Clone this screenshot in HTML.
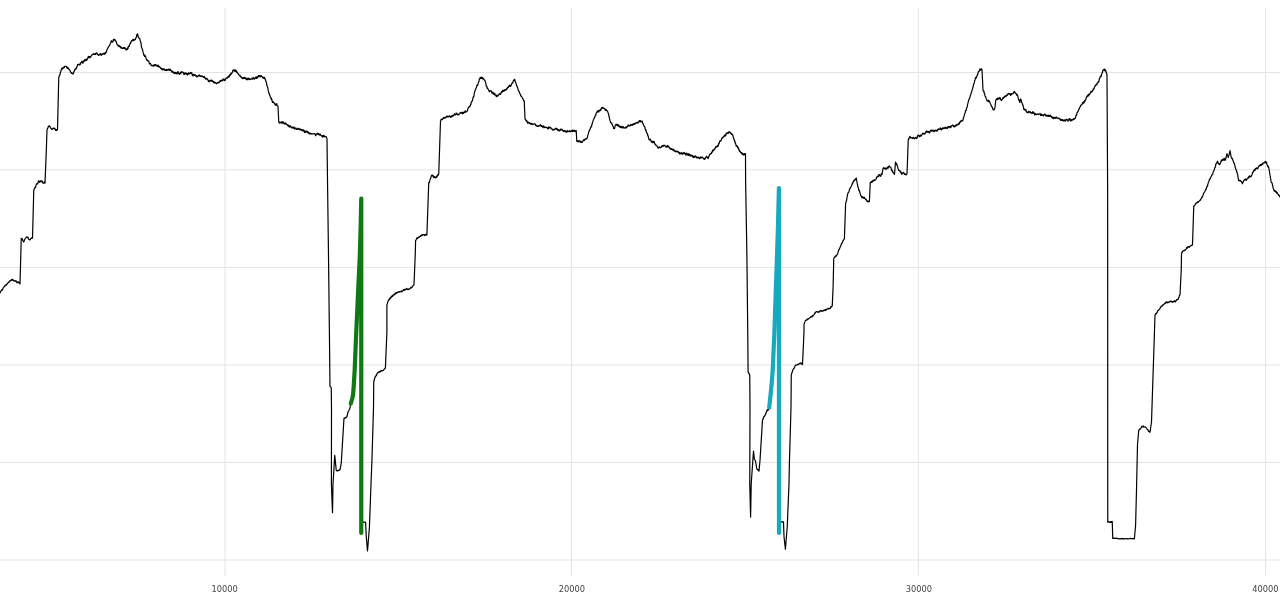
<!DOCTYPE html>
<html><head><meta charset="utf-8"><title>chart</title>
<style>html,body{margin:0;padding:0;background:#fff;overflow:hidden}svg{display:block}</style>
</head><body>
<svg width="1280" height="608" viewBox="0 0 1280 608">
<rect width="1280" height="608" fill="#fff"/>
<g stroke="#e3e3e3" stroke-width="1" fill="none">
<path d="M225.0,8V576.5"/>
<path d="M571.5,8V576.5"/>
<path d="M918.4,8V576.5"/>
<path d="M1265.5,8V576.5"/>
<path d="M0,72.5H1280"/>
<path d="M0,169.8H1280"/>
<path d="M0,267.4H1280"/>
<path d="M0,365.0H1280"/>
<path d="M0,462.5H1280"/>
<path d="M0,560.0H1280"/>
</g>
<path d="M0.00,293.25 L0.31,292.32 L0.62,291.88 L0.94,290.78 L1.25,290.71 L1.56,290.02 L1.88,289.78 L2.19,289.92 L2.50,290.14 L2.81,288.59 L3.12,288.00 L3.44,287.77 L3.75,287.44 L4.06,286.72 L4.38,286.24 L4.69,286.44 L5.00,285.75 L5.30,285.07 L5.60,285.13 L5.90,285.22 L6.20,284.93 L6.50,285.16 L6.80,284.14 L7.10,283.70 L7.40,283.43 L7.70,283.55 L8.00,282.81 L8.30,282.38 L8.60,282.40 L8.90,281.94 L9.20,281.46 L9.50,281.75 L9.80,281.38 L10.10,280.58 L10.40,280.71 L10.70,280.40 L11.00,280.55 L11.30,280.20 L11.60,279.48 L11.90,280.12 L12.20,279.33 L12.50,279.50 L12.80,279.71 L13.10,280.40 L13.40,280.02 L13.70,280.77 L14.00,280.94 L14.30,280.90 L14.60,280.73 L14.90,281.17 L15.20,281.27 L15.50,280.68 L15.80,281.20 L16.10,280.78 L16.40,281.83 L16.70,282.06 L17.00,282.77 L17.30,282.59 L17.60,281.98 L17.90,282.13 L18.20,282.50 L18.50,281.76 L18.80,282.67 L19.10,282.71 L19.40,283.04 L19.70,283.59 L20.00,284.00 L21.25,238.25 L21.56,239.04 L21.88,238.60 L22.19,239.24 L22.50,239.56 L22.81,240.48 L23.12,240.92 L23.44,241.51 L23.75,242.00 L24.06,241.49 L24.38,240.08 L24.69,239.54 L25.00,239.04 L25.31,238.39 L25.62,238.04 L25.94,237.57 L26.25,237.00 L26.56,237.27 L26.88,237.11 L27.19,237.04 L27.50,237.31 L27.81,237.80 L28.12,237.48 L28.44,238.92 L28.75,239.20 L29.06,239.54 L29.38,239.68 L29.69,239.58 L30.00,240.00 L30.31,239.36 L30.62,238.80 L30.94,238.40 L31.25,238.27 L31.56,237.93 L31.88,237.87 L32.19,238.25 L32.50,238.25 L33.75,190.75 L34.06,189.49 L34.38,188.60 L34.69,188.16 L35.00,187.28 L35.31,187.69 L35.62,187.11 L35.94,185.38 L36.25,184.58 L36.56,183.79 L36.88,183.70 L37.19,184.00 L37.50,183.75 L37.81,183.93 L38.12,182.01 L38.44,181.18 L38.75,180.75 L39.06,181.76 L39.38,182.29 L39.69,181.93 L40.00,181.11 L40.31,181.22 L40.62,180.82 L40.94,181.79 L41.25,181.32 L41.56,181.68 L41.88,180.86 L42.19,181.00 L42.50,182.31 L42.81,182.92 L43.12,183.01 L43.44,183.25 L43.75,183.15 L44.06,182.89 L44.38,181.90 L44.69,182.68 L45.00,183.25 L46.25,152.00 L47.00,130.00 L47.32,128.87 L47.64,128.32 L47.96,127.94 L48.29,126.35 L48.61,126.58 L48.93,126.20 L49.25,125.75 L49.58,126.31 L49.92,126.39 L50.25,127.14 L50.58,127.99 L50.92,128.26 L51.25,128.75 L51.56,128.83 L51.88,129.42 L52.19,129.21 L52.50,129.17 L52.81,128.70 L53.12,128.18 L53.44,128.68 L53.75,128.00 L54.06,128.46 L54.38,128.79 L54.69,128.25 L55.00,128.59 L55.31,128.86 L55.62,130.37 L55.94,130.43 L56.25,129.53 L56.56,130.47 L56.88,130.51 L57.19,129.56 L57.50,129.50 L58.75,77.50 L59.06,76.85 L59.38,75.76 L59.69,74.73 L60.00,74.60 L60.31,72.57 L60.62,72.12 L60.94,70.90 L61.25,70.00 L61.55,69.18 L61.86,68.68 L62.16,67.94 L62.46,69.02 L62.77,67.82 L63.07,67.75 L63.38,67.72 L63.68,68.02 L63.98,66.95 L64.29,67.52 L64.59,66.51 L64.89,66.27 L65.20,66.24 L65.50,66.25 L65.80,66.30 L66.11,66.28 L66.41,66.44 L66.72,67.31 L67.02,67.78 L67.33,68.36 L67.63,67.40 L67.93,68.36 L68.24,68.02 L68.54,68.30 L68.85,69.37 L69.15,69.15 L69.46,69.48 L69.76,70.15 L70.07,71.15 L70.37,71.09 L70.67,72.12 L70.98,72.68 L71.28,72.99 L71.59,73.29 L71.89,72.88 L72.20,73.22 L72.50,73.75 L72.81,73.37 L73.12,73.91 L73.44,73.47 L73.75,72.01 L74.06,71.29 L74.38,71.14 L74.69,69.82 L75.00,69.41 L75.31,68.69 L75.62,69.26 L75.94,69.01 L76.25,68.77 L76.56,67.00 L76.88,67.44 L77.19,66.22 L77.50,65.00 L77.80,64.28 L78.11,64.40 L78.41,64.73 L78.71,64.62 L79.02,64.47 L79.32,64.53 L79.62,65.07 L79.92,63.73 L80.23,64.49 L80.53,63.91 L80.83,62.62 L81.14,62.58 L81.44,62.51 L81.74,61.75 L82.05,61.07 L82.35,62.81 L82.65,62.66 L82.95,63.16 L83.26,61.78 L83.56,61.58 L83.86,60.72 L84.17,61.51 L84.47,60.17 L84.77,59.60 L85.08,59.95 L85.38,60.64 L85.68,60.34 L85.98,59.24 L86.29,59.06 L86.59,60.44 L86.89,59.91 L87.20,59.58 L87.50,58.75 L87.80,57.69 L88.10,57.94 L88.41,56.39 L88.71,57.52 L89.01,56.67 L89.31,56.59 L89.61,57.07 L89.91,57.82 L90.22,56.81 L90.52,56.55 L90.82,56.89 L91.12,56.07 L91.42,55.53 L91.72,55.28 L92.03,54.74 L92.33,54.63 L92.63,54.44 L92.93,54.06 L93.23,54.46 L93.53,53.69 L93.84,54.28 L94.14,53.96 L94.44,54.48 L94.74,54.15 L95.04,54.30 L95.34,53.55 L95.65,54.42 L95.95,53.48 L96.25,53.00 L96.56,53.23 L96.88,52.98 L97.19,53.51 L97.50,54.51 L97.81,54.28 L98.12,55.00 L98.44,55.32 L98.75,55.00 L99.05,54.95 L99.35,54.71 L99.65,54.21 L99.95,54.94 L100.25,53.71 L100.55,53.69 L100.85,53.69 L101.15,55.11 L101.45,55.29 L101.75,55.09 L102.05,54.27 L102.35,54.04 L102.65,53.96 L102.95,54.09 L103.25,53.41 L103.55,53.77 L103.85,53.33 L104.15,54.38 L104.45,54.26 L104.75,53.41 L105.05,52.68 L105.35,53.70 L105.65,52.37 L105.95,52.42 L106.25,52.50 L106.56,50.85 L106.88,49.95 L107.19,49.18 L107.50,49.23 L107.81,47.98 L108.12,47.30 L108.44,47.13 L108.75,46.36 L109.06,46.27 L109.38,45.49 L109.69,45.18 L110.00,44.34 L110.31,43.55 L110.62,42.95 L110.94,41.58 L111.25,41.25 L111.56,40.69 L111.88,41.90 L112.19,42.25 L112.50,42.05 L112.81,41.58 L113.12,41.07 L113.44,39.28 L113.75,39.28 L114.06,39.45 L114.38,40.21 L114.69,40.02 L115.00,39.50 L115.31,40.69 L115.62,40.91 L115.94,41.11 L116.25,41.83 L116.56,43.09 L116.88,43.53 L117.19,45.00 L117.50,45.00 L117.80,45.26 L118.10,45.61 L118.41,46.03 L118.71,45.23 L119.01,46.57 L119.31,45.92 L119.61,45.79 L119.91,46.28 L120.22,47.25 L120.52,46.53 L120.82,47.64 L121.12,48.24 L121.42,47.62 L121.72,47.63 L122.03,47.94 L122.33,48.36 L122.63,48.58 L122.93,48.40 L123.23,48.52 L123.53,47.54 L123.84,47.59 L124.14,47.71 L124.44,48.47 L124.74,47.65 L125.04,48.56 L125.34,48.19 L125.65,48.83 L125.95,49.79 L126.25,50.00 L126.56,49.69 L126.88,48.78 L127.19,49.61 L127.50,47.94 L127.81,48.77 L128.12,48.19 L128.44,46.13 L128.75,46.37 L129.06,46.47 L129.38,46.22 L129.69,44.65 L130.00,43.66 L130.31,42.87 L130.62,43.44 L130.94,41.51 L131.25,41.74 L131.56,40.61 L131.88,40.86 L132.19,40.87 L132.50,40.00 L132.80,39.85 L133.10,39.22 L133.40,40.63 L133.70,40.21 L134.00,39.71 L134.30,39.48 L134.60,40.11 L134.90,39.84 L135.20,39.47 L135.50,39.50 L135.83,37.68 L136.17,37.47 L136.50,36.83 L136.83,34.62 L137.17,34.88 L137.50,33.75 L137.80,34.71 L138.10,36.79 L138.40,36.93 L138.70,37.39 L139.00,38.34 L139.30,38.54 L139.60,38.61 L139.90,39.16 L140.20,40.68 L140.50,41.25 L140.82,42.31 L141.15,44.21 L141.47,47.04 L141.80,48.12 L142.12,48.88 L142.45,49.45 L142.78,50.98 L143.10,52.41 L143.43,53.36 L143.75,55.00 L144.06,55.36 L144.38,54.99 L144.69,56.60 L145.00,55.36 L145.31,56.06 L145.62,56.61 L145.94,57.29 L146.25,58.81 L146.56,59.98 L146.88,59.52 L147.19,60.50 L147.50,60.20 L147.81,60.94 L148.12,60.96 L148.44,60.88 L148.75,61.45 L149.06,62.11 L149.38,63.88 L149.69,63.55 L150.00,63.75 L150.30,63.48 L150.61,63.59 L150.91,64.59 L151.21,65.59 L151.52,65.73 L151.82,65.32 L152.12,65.48 L152.42,65.83 L152.73,65.74 L153.03,65.64 L153.33,65.01 L153.64,65.21 L153.94,66.22 L154.24,64.62 L154.55,65.20 L154.85,65.38 L155.15,65.73 L155.45,64.58 L155.76,64.66 L156.06,64.76 L156.36,65.16 L156.67,65.38 L156.97,66.38 L157.27,66.31 L157.58,66.41 L157.88,65.03 L158.18,65.11 L158.48,66.32 L158.79,66.83 L159.09,66.35 L159.39,66.79 L159.70,66.70 L160.00,67.50 L160.30,67.72 L160.60,68.40 L160.90,68.24 L161.20,68.75 L161.50,68.24 L161.80,69.56 L162.10,68.67 L162.40,69.89 L162.70,69.48 L163.00,68.95 L163.30,68.76 L163.60,69.09 L163.90,69.86 L164.20,70.08 L164.50,69.19 L164.80,69.28 L165.10,70.21 L165.40,70.46 L165.70,70.29 L166.00,70.16 L166.30,70.56 L166.60,69.31 L166.90,69.55 L167.20,69.58 L167.50,70.18 L167.80,69.68 L168.10,70.11 L168.40,69.45 L168.70,69.08 L169.00,69.13 L169.30,70.47 L169.60,70.15 L169.90,69.60 L170.20,69.24 L170.50,70.17 L170.80,70.74 L171.10,70.59 L171.40,70.59 L171.70,71.56 L172.00,72.28 L172.30,71.27 L172.60,71.11 L172.90,71.81 L173.20,72.13 L173.50,72.75 L173.80,72.15 L174.10,73.39 L174.40,73.52 L174.70,72.87 L175.00,72.50 L175.30,72.28 L175.60,72.86 L175.90,73.73 L176.20,72.76 L176.50,73.57 L176.80,72.97 L177.10,73.98 L177.40,72.27 L177.70,71.83 L178.00,71.55 L178.30,72.39 L178.60,73.51 L178.90,73.76 L179.20,73.77 L179.50,74.49 L179.80,74.12 L180.10,72.84 L180.40,72.33 L180.70,73.35 L181.00,72.77 L181.30,71.58 L181.60,72.67 L181.90,72.21 L182.20,72.22 L182.50,72.17 L182.80,72.18 L183.10,72.18 L183.40,72.93 L183.70,73.34 L184.00,74.65 L184.30,73.04 L184.60,74.27 L184.90,72.78 L185.20,72.84 L185.50,73.43 L185.80,73.77 L186.10,73.45 L186.40,73.14 L186.70,74.20 L187.00,74.37 L187.30,75.10 L187.60,73.67 L187.90,73.77 L188.20,74.48 L188.50,72.82 L188.80,73.34 L189.10,73.90 L189.40,73.70 L189.70,73.03 L190.00,73.75 L190.30,73.37 L190.61,72.41 L190.91,73.27 L191.21,72.68 L191.52,72.82 L191.82,72.87 L192.12,74.66 L192.42,75.45 L192.73,75.48 L193.03,76.08 L193.33,74.25 L193.64,74.35 L193.94,74.50 L194.24,75.05 L194.55,75.29 L194.85,74.65 L195.15,74.74 L195.45,75.37 L195.76,75.78 L196.06,76.67 L196.36,75.56 L196.67,76.77 L196.97,76.81 L197.27,76.95 L197.58,76.66 L197.88,76.17 L198.18,75.48 L198.48,75.26 L198.79,75.30 L199.09,76.06 L199.39,74.90 L199.70,75.66 L200.00,76.25 L200.30,76.35 L200.61,75.89 L200.91,75.79 L201.21,76.34 L201.52,76.62 L201.82,76.21 L202.12,75.88 L202.42,76.23 L202.73,76.61 L203.03,76.78 L203.33,77.02 L203.64,77.30 L203.94,77.10 L204.24,76.29 L204.55,77.87 L204.85,77.33 L205.15,78.19 L205.45,78.25 L205.76,79.21 L206.06,78.31 L206.36,78.40 L206.67,78.41 L206.97,78.27 L207.27,79.72 L207.58,79.66 L207.88,79.69 L208.18,80.27 L208.48,81.75 L208.79,81.11 L209.09,80.73 L209.39,81.79 L209.70,80.99 L210.00,80.50 L210.30,80.80 L210.60,80.38 L210.90,80.17 L211.20,81.18 L211.50,80.19 L211.80,81.06 L212.10,80.39 L212.40,81.50 L212.70,81.07 L213.00,81.03 L213.30,82.18 L213.60,82.73 L213.90,81.57 L214.20,82.66 L214.50,82.97 L214.80,82.40 L215.10,82.76 L215.40,82.49 L215.70,82.70 L216.00,82.90 L216.30,83.62 L216.60,83.85 L216.90,83.22 L217.20,82.96 L217.50,83.00 L217.80,82.64 L218.11,82.73 L218.41,82.90 L218.71,82.00 L219.02,82.03 L219.32,82.53 L219.62,81.64 L219.92,81.02 L220.23,80.66 L220.53,81.54 L220.83,80.36 L221.14,80.71 L221.44,80.26 L221.74,80.28 L222.05,80.85 L222.35,80.87 L222.65,79.58 L222.95,79.09 L223.26,79.84 L223.56,79.10 L223.86,78.91 L224.17,80.58 L224.47,79.92 L224.77,80.56 L225.08,79.58 L225.38,80.11 L225.68,79.12 L225.98,78.34 L226.29,77.72 L226.59,78.23 L226.89,77.99 L227.20,78.10 L227.50,78.00 L227.81,77.65 L228.11,76.20 L228.42,76.78 L228.73,77.24 L229.03,77.19 L229.34,75.38 L229.65,74.76 L229.95,75.64 L230.26,75.24 L230.57,74.11 L230.88,73.09 L231.18,74.28 L231.49,73.08 L231.80,73.45 L232.10,72.41 L232.41,72.20 L232.72,70.51 L233.02,71.12 L233.33,69.87 L233.64,69.89 L233.94,70.36 L234.25,70.00 L234.56,70.75 L234.86,71.42 L235.17,69.95 L235.47,70.81 L235.78,71.31 L236.08,70.43 L236.39,72.13 L236.69,71.25 L237.00,72.41 L237.31,72.75 L237.61,73.30 L237.92,73.17 L238.22,73.79 L238.53,74.47 L238.83,74.59 L239.14,75.37 L239.44,75.40 L239.75,75.77 L240.06,75.32 L240.36,76.58 L240.67,76.62 L240.97,76.44 L241.28,77.55 L241.58,77.77 L241.89,77.40 L242.19,77.76 L242.50,78.75 L242.80,78.27 L243.10,78.63 L243.40,77.54 L243.70,78.50 L244.00,78.43 L244.30,78.02 L244.60,77.28 L244.90,78.08 L245.20,77.91 L245.50,78.92 L245.80,77.71 L246.10,79.12 L246.40,79.53 L246.70,79.25 L247.00,79.57 L247.30,78.38 L247.60,79.59 L247.90,78.62 L248.20,79.28 L248.50,79.08 L248.80,78.00 L249.10,79.26 L249.40,79.70 L249.70,78.95 L250.00,79.50 L250.30,79.12 L250.61,79.37 L250.91,79.16 L251.22,78.79 L251.52,78.95 L251.82,78.50 L252.13,79.41 L252.43,78.56 L252.74,78.52 L253.04,77.39 L253.34,78.72 L253.65,77.86 L253.95,78.85 L254.26,79.22 L254.56,78.33 L254.86,78.78 L255.17,77.81 L255.47,77.43 L255.78,77.82 L256.08,76.68 L256.39,78.37 L256.69,77.93 L256.99,77.71 L257.30,78.03 L257.60,76.67 L257.91,77.45 L258.21,76.30 L258.51,75.62 L258.82,76.39 L259.12,75.92 L259.43,75.56 L259.73,76.61 L260.03,75.53 L260.34,76.96 L260.64,76.11 L260.95,76.37 L261.25,75.75 L261.56,76.07 L261.88,76.34 L262.19,77.14 L262.50,76.84 L262.81,77.27 L263.12,78.22 L263.44,77.22 L263.75,77.68 L264.06,78.44 L264.38,77.41 L264.69,77.94 L265.00,78.75 L265.31,79.72 L265.62,79.89 L265.94,81.60 L266.25,82.35 L266.56,83.06 L266.88,85.72 L267.19,85.84 L267.50,86.98 L267.81,87.95 L268.12,89.94 L268.44,91.38 L268.75,92.50 L269.06,93.62 L269.38,94.13 L269.69,95.24 L270.00,95.50 L270.31,97.09 L270.62,97.50 L270.94,97.42 L271.25,99.29 L271.56,98.51 L271.88,100.02 L272.19,101.05 L272.50,102.50 L272.81,102.03 L273.11,101.59 L273.42,102.39 L273.72,102.33 L274.03,102.91 L274.33,103.80 L274.64,103.31 L274.94,104.13 L275.25,104.70 L275.56,104.08 L275.86,105.31 L276.17,104.92 L276.47,104.61 L276.78,103.55 L277.08,105.47 L277.39,105.80 L277.69,105.93 L278.00,106.25 L278.75,122.00 L279.05,122.49 L279.35,123.09 L279.66,122.82 L279.96,122.02 L280.26,122.48 L280.56,122.27 L280.86,122.86 L281.16,122.40 L281.47,121.95 L281.77,122.60 L282.07,123.19 L282.37,121.96 L282.67,123.13 L282.97,121.71 L283.28,122.23 L283.58,122.35 L283.88,123.38 L284.18,123.89 L284.48,123.72 L284.78,123.07 L285.09,124.02 L285.39,123.09 L285.69,122.94 L285.99,124.08 L286.29,123.82 L286.59,124.18 L286.90,124.38 L287.20,125.03 L287.50,125.00 L287.80,124.81 L288.11,126.22 L288.41,125.21 L288.72,125.30 L289.02,125.73 L289.33,127.22 L289.63,126.28 L289.94,125.99 L290.24,125.85 L290.55,125.93 L290.85,127.20 L291.16,127.30 L291.46,127.60 L291.77,127.86 L292.07,126.92 L292.38,127.84 L292.68,127.38 L292.99,128.08 L293.29,128.00 L293.60,128.05 L293.90,126.74 L294.21,128.36 L294.51,128.70 L294.82,129.00 L295.12,127.84 L295.43,128.18 L295.73,128.07 L296.04,127.99 L296.34,129.42 L296.65,129.41 L296.95,129.15 L297.26,129.47 L297.56,129.14 L297.87,128.55 L298.17,128.23 L298.48,128.24 L298.78,129.44 L299.09,128.58 L299.39,128.85 L299.70,129.48 L300.00,130.00 L300.30,129.16 L300.61,129.11 L300.91,129.35 L301.22,130.12 L301.52,129.60 L301.83,130.32 L302.13,130.14 L302.44,129.70 L302.74,130.90 L303.05,129.69 L303.35,131.18 L303.66,130.37 L303.96,130.38 L304.27,131.01 L304.57,132.26 L304.88,132.69 L305.18,130.97 L305.49,131.72 L305.79,131.65 L306.10,132.10 L306.40,131.06 L306.71,131.65 L307.01,131.47 L307.32,132.37 L307.62,131.46 L307.93,132.82 L308.23,132.09 L308.54,132.36 L308.84,133.58 L309.15,133.63 L309.45,133.23 L309.76,134.00 L310.06,132.93 L310.37,134.01 L310.67,133.73 L310.98,133.81 L311.28,133.79 L311.59,133.59 L311.89,133.92 L312.20,133.91 L312.50,133.75 L312.80,133.87 L313.11,133.99 L313.41,133.79 L313.72,133.86 L314.02,133.54 L314.33,133.70 L314.63,133.63 L314.94,134.03 L315.24,134.18 L315.55,135.78 L315.85,135.33 L316.16,135.12 L316.46,133.80 L316.77,133.92 L317.07,134.14 L317.38,133.77 L317.68,133.15 L317.99,133.87 L318.29,134.73 L318.60,133.78 L318.90,133.81 L319.21,134.09 L319.51,134.86 L319.82,135.19 L320.12,134.10 L320.43,134.29 L320.73,134.81 L321.04,135.30 L321.34,136.00 L321.65,135.74 L321.95,136.26 L322.26,135.90 L322.56,137.11 L322.87,136.57 L323.17,135.37 L323.48,136.73 L323.78,135.27 L324.09,135.75 L324.39,136.78 L324.70,136.33 L325.00,136.25 L325.33,136.47 L325.67,136.67 L326.00,137.15 L326.33,136.78 L326.67,137.94 L327.00,138.75 L327.50,180.00 L328.50,256.00 L329.40,332.00 L330.00,386.40 L331.25,387.60 L331.50,408.00 L331.40,484.00 L332.50,512.75 L333.00,484.00 L334.75,455.25 L336.25,470.50 L336.56,470.46 L336.88,470.93 L337.19,470.60 L337.50,470.91 L337.81,470.98 L338.12,470.28 L338.44,470.32 L338.75,470.40 L339.06,470.01 L339.38,469.79 L339.69,470.17 L340.00,469.90 L341.25,463.00 L344.00,418.00 L344.32,418.30 L344.64,418.45 L344.97,418.05 L345.29,417.70 L345.61,417.90 L345.93,417.11 L346.26,417.32 L346.58,417.26 L346.90,416.75 L348.10,411.75 L348.42,411.26 L348.73,410.91 L349.05,409.98 L349.37,409.46 L349.68,408.79 L350.00,408.00 L350.60,404.00 L350.80,403.50 L352.40,398.00 L353.10,394.50 L354.00,382.00 L354.70,369.50 L355.50,350.00 L356.25,332.00 L358.00,294.00 L359.80,256.00 L360.70,225.00 L361.25,198.50 L361.25,533.00 L361.25,522.00 L361.56,522.04 L361.87,521.75 L362.18,522.03 L362.49,521.94 L362.80,522.25 L363.11,522.34 L363.43,522.19 L363.74,522.03 L364.05,522.26 L364.36,522.22 L364.67,522.25 L364.98,522.12 L365.29,522.11 L365.60,522.10 L366.25,536.50 L367.50,550.90 L369.40,527.75 L371.00,484.00 L371.90,461.75 L373.50,408.00 L373.75,382.00 L375.00,377.00 L375.31,376.90 L375.62,376.29 L375.94,376.17 L376.25,374.84 L376.56,375.38 L376.88,374.15 L377.19,373.31 L377.50,373.08 L377.81,373.02 L378.12,372.35 L378.44,372.41 L378.75,371.75 L379.06,371.81 L379.38,372.21 L379.69,371.75 L380.00,371.42 L380.31,371.88 L380.62,371.16 L380.94,370.72 L381.25,370.39 L381.56,371.04 L381.88,370.96 L382.19,370.73 L382.50,370.75 L382.82,370.37 L383.14,370.38 L383.47,370.35 L383.79,370.10 L384.11,369.36 L384.43,368.75 L384.76,368.65 L385.08,368.11 L385.40,368.25 L386.90,332.00 L386.90,304.75 L387.21,303.99 L387.52,302.81 L387.82,301.92 L388.13,301.08 L388.44,300.44 L388.75,299.75 L389.05,299.49 L389.35,299.75 L389.66,299.22 L389.96,297.83 L390.26,298.38 L390.56,298.18 L390.86,297.74 L391.16,296.68 L391.47,297.22 L391.77,296.72 L392.07,295.73 L392.37,295.47 L392.67,296.33 L392.98,295.75 L393.28,295.05 L393.58,294.66 L393.88,294.50 L394.18,294.40 L394.49,294.75 L394.79,293.94 L395.09,293.41 L395.39,294.01 L395.69,293.63 L395.99,292.68 L396.30,293.35 L396.60,292.67 L396.90,292.25 L397.20,292.52 L397.50,292.38 L397.80,292.77 L398.10,292.25 L398.40,291.83 L398.70,291.79 L399.00,291.67 L399.30,292.08 L399.60,291.55 L399.90,291.91 L400.20,291.39 L400.50,291.67 L400.80,291.55 L401.10,291.49 L401.40,291.81 L401.70,290.71 L402.00,291.63 L402.30,291.11 L402.60,290.89 L402.90,290.69 L403.20,290.56 L403.50,289.68 L403.80,289.61 L404.10,290.34 L404.40,289.38 L404.70,289.99 L405.00,289.75 L405.31,289.96 L405.62,289.32 L405.94,288.96 L406.25,289.12 L406.56,288.26 L406.88,289.24 L407.19,289.29 L407.50,289.12 L407.81,289.69 L408.12,289.05 L408.44,289.14 L408.75,289.15 L409.06,289.47 L409.38,288.83 L409.69,288.86 L410.00,288.50 L410.31,288.11 L410.62,287.90 L410.92,287.39 L411.23,287.43 L411.54,287.78 L411.85,287.22 L412.15,287.20 L412.46,286.47 L412.77,286.17 L413.08,285.65 L413.38,285.50 L413.69,285.05 L414.00,284.75 L415.20,256.00 L415.60,240.60 L415.92,240.38 L416.23,239.30 L416.55,238.98 L416.86,238.01 L417.18,237.61 L417.49,238.34 L417.81,237.83 L418.12,237.74 L418.44,237.53 L418.75,236.90 L419.06,237.08 L419.37,237.23 L419.68,236.39 L419.99,236.64 L420.30,236.15 L420.61,236.33 L420.93,235.37 L421.24,235.29 L421.55,234.94 L421.86,235.64 L422.17,235.63 L422.48,235.15 L422.79,234.61 L423.10,234.40 L423.42,234.68 L423.73,234.80 L424.05,234.96 L424.37,235.25 L424.68,235.55 L425.00,234.46 L425.32,235.03 L425.63,234.36 L425.95,234.37 L426.27,235.12 L426.58,234.85 L426.90,235.00 L428.75,182.50 L429.06,182.68 L429.38,182.59 L429.69,180.86 L430.00,179.89 L430.31,178.52 L430.62,178.60 L430.94,177.02 L431.25,176.08 L431.56,175.48 L431.88,175.11 L432.19,175.99 L432.50,175.50 L432.81,175.21 L433.12,175.29 L433.44,177.24 L433.75,177.18 L434.06,177.74 L434.38,176.53 L434.69,176.61 L435.00,177.50 L435.31,177.63 L435.62,177.82 L435.94,177.04 L436.25,177.50 L436.56,176.12 L436.88,177.10 L437.19,176.45 L437.50,175.02 L437.81,174.64 L438.12,175.33 L438.44,174.67 L438.75,173.75 L440.50,121.25 L440.82,120.41 L441.15,119.08 L441.48,119.39 L441.80,119.62 L442.12,119.32 L442.45,119.65 L442.77,118.44 L443.10,118.77 L443.43,117.53 L443.75,117.50 L444.05,118.00 L444.36,118.02 L444.66,118.14 L444.97,117.21 L445.27,117.54 L445.57,117.99 L445.88,117.55 L446.18,116.96 L446.49,116.28 L446.79,116.36 L447.09,117.04 L447.40,116.07 L447.70,116.50 L448.01,116.29 L448.31,116.92 L448.61,116.89 L448.92,116.13 L449.22,115.78 L449.53,116.28 L449.83,116.56 L450.14,116.84 L450.44,117.23 L450.74,117.35 L451.05,115.77 L451.35,116.95 L451.66,116.75 L451.96,116.68 L452.26,116.01 L452.57,115.31 L452.87,116.09 L453.18,115.82 L453.48,115.42 L453.78,115.60 L454.09,114.41 L454.39,113.74 L454.70,114.45 L455.00,114.50 L455.30,114.85 L455.61,114.94 L455.91,113.99 L456.22,112.98 L456.52,114.04 L456.82,114.19 L457.13,113.48 L457.43,114.28 L457.74,115.03 L458.04,115.08 L458.34,114.48 L458.65,114.43 L458.95,114.64 L459.26,113.92 L459.56,113.49 L459.86,113.03 L460.17,113.48 L460.47,112.47 L460.78,112.66 L461.08,112.50 L461.39,112.81 L461.69,112.31 L461.99,112.25 L462.30,113.85 L462.60,112.75 L462.91,112.26 L463.21,113.12 L463.51,113.31 L463.82,112.05 L464.12,112.61 L464.43,112.00 L464.73,112.11 L465.03,111.07 L465.34,110.88 L465.64,112.30 L465.95,111.85 L466.25,111.75 L466.56,111.70 L466.88,111.35 L467.19,111.03 L467.50,110.87 L467.81,109.02 L468.12,108.01 L468.44,107.64 L468.75,106.97 L469.06,106.66 L469.38,106.45 L469.69,106.95 L470.00,106.25 L470.31,105.56 L470.62,104.12 L470.94,104.37 L471.25,101.99 L471.56,101.87 L471.88,101.35 L472.19,101.24 L472.50,100.11 L472.81,98.68 L473.12,97.82 L473.44,96.37 L473.75,96.78 L474.06,95.37 L474.38,92.62 L474.69,91.50 L475.00,91.25 L475.30,89.76 L475.60,89.58 L475.90,88.66 L476.20,87.76 L476.50,87.55 L476.80,85.40 L477.10,84.99 L477.40,85.45 L477.70,85.20 L478.00,84.18 L478.30,82.71 L478.60,82.37 L478.90,81.82 L479.20,79.73 L479.50,78.75 L479.80,78.29 L480.11,77.65 L480.41,78.53 L480.71,77.36 L481.02,78.51 L481.32,77.56 L481.62,77.22 L481.93,78.67 L482.23,77.40 L482.54,78.71 L482.84,78.78 L483.14,79.00 L483.45,78.32 L483.75,78.75 L484.06,79.17 L484.38,80.22 L484.69,80.16 L485.00,80.94 L485.31,81.35 L485.62,82.71 L485.94,83.67 L486.25,86.02 L486.56,86.43 L486.88,86.41 L487.19,88.33 L487.50,87.99 L487.81,88.84 L488.12,89.01 L488.44,89.79 L488.75,90.50 L489.05,90.60 L489.35,91.88 L489.66,91.44 L489.96,90.61 L490.26,91.04 L490.56,90.83 L490.86,90.90 L491.16,90.92 L491.47,91.31 L491.77,92.57 L492.07,92.94 L492.37,93.18 L492.67,92.13 L492.97,92.82 L493.28,94.08 L493.58,92.77 L493.88,94.02 L494.18,93.40 L494.48,94.67 L494.78,93.40 L495.09,95.23 L495.39,94.93 L495.69,95.08 L495.99,95.33 L496.29,96.66 L496.59,95.95 L496.90,95.18 L497.20,95.73 L497.50,96.25 L497.80,96.07 L498.10,95.36 L498.40,94.79 L498.70,95.09 L499.00,94.32 L499.30,93.86 L499.60,93.66 L499.90,94.27 L500.20,94.35 L500.50,94.45 L500.80,93.60 L501.10,92.50 L501.40,91.81 L501.70,92.48 L502.00,91.48 L502.30,91.78 L502.60,90.42 L502.90,91.47 L503.20,90.43 L503.50,91.06 L503.80,91.14 L504.10,90.54 L504.40,89.76 L504.70,90.78 L505.00,90.00 L505.31,89.52 L505.62,89.60 L505.94,89.92 L506.25,88.86 L506.56,89.68 L506.88,89.01 L507.19,88.59 L507.50,87.38 L507.81,87.84 L508.12,87.48 L508.44,87.27 L508.75,86.06 L509.06,86.43 L509.38,85.58 L509.69,85.92 L510.00,84.81 L510.31,86.25 L510.62,86.45 L510.94,85.50 L511.25,85.00 L511.57,84.22 L511.90,83.42 L512.23,82.74 L512.55,82.45 L512.88,82.87 L513.20,80.99 L513.52,80.43 L513.85,80.53 L514.17,79.35 L514.50,79.50 L514.80,79.56 L515.11,81.25 L515.41,82.13 L515.71,82.12 L516.02,83.29 L516.32,84.75 L516.62,85.59 L516.93,86.04 L517.23,86.60 L517.54,87.90 L517.84,88.25 L518.14,89.84 L518.45,90.76 L518.75,91.25 L519.06,91.39 L519.36,91.83 L519.67,93.33 L519.97,93.58 L520.28,94.07 L520.58,95.65 L520.89,96.02 L521.19,95.92 L521.50,96.40 L521.81,96.81 L522.11,97.22 L522.42,98.39 L522.72,98.34 L523.03,99.10 L523.33,99.84 L523.64,100.81 L523.94,100.53 L524.25,101.25 L525.00,118.75 L525.31,119.10 L525.62,120.00 L525.94,119.79 L526.25,120.99 L526.56,121.41 L526.88,120.88 L527.19,121.38 L527.50,123.09 L527.81,122.66 L528.12,122.84 L528.44,122.22 L528.75,122.42 L529.06,122.97 L529.38,123.38 L529.69,122.87 L530.00,123.75 L530.30,123.73 L530.60,124.11 L530.90,123.10 L531.20,123.79 L531.50,124.29 L531.80,123.80 L532.10,123.65 L532.40,124.25 L532.70,124.62 L533.00,124.23 L533.30,124.06 L533.60,123.94 L533.90,124.09 L534.20,124.15 L534.50,123.82 L534.80,123.94 L535.10,123.87 L535.40,124.84 L535.70,125.53 L536.00,125.34 L536.30,125.52 L536.60,125.90 L536.90,125.39 L537.20,126.50 L537.50,126.33 L537.80,126.39 L538.10,126.42 L538.40,126.10 L538.70,125.75 L539.00,125.55 L539.30,125.40 L539.60,125.79 L539.90,125.45 L540.20,125.68 L540.50,124.60 L540.80,125.37 L541.10,126.43 L541.40,125.57 L541.70,126.30 L542.00,126.38 L542.30,126.06 L542.60,127.27 L542.90,126.12 L543.20,126.96 L543.50,125.94 L543.80,126.09 L544.10,127.77 L544.40,127.35 L544.70,126.98 L545.00,127.00 L545.30,127.25 L545.60,127.47 L545.90,127.05 L546.20,127.52 L546.50,127.62 L546.80,127.86 L547.10,127.59 L547.40,128.33 L547.70,128.41 L548.00,128.97 L548.30,127.40 L548.60,128.43 L548.90,126.73 L549.20,127.79 L549.50,127.26 L549.80,127.23 L550.10,128.15 L550.40,127.61 L550.70,127.48 L551.00,128.22 L551.30,128.80 L551.60,128.77 L551.90,128.80 L552.20,129.35 L552.50,129.78 L552.80,130.20 L553.10,129.43 L553.40,129.56 L553.70,129.80 L554.00,129.48 L554.30,129.16 L554.60,129.74 L554.90,129.64 L555.20,128.83 L555.50,128.53 L555.80,128.24 L556.10,128.60 L556.40,128.49 L556.70,129.38 L557.00,129.55 L557.30,128.79 L557.60,130.28 L557.90,129.34 L558.20,130.30 L558.50,130.37 L558.80,130.80 L559.10,129.74 L559.40,130.35 L559.70,130.91 L560.00,130.50 L560.30,130.01 L560.60,129.12 L560.90,130.15 L561.20,129.72 L561.50,129.50 L561.81,129.04 L562.11,129.76 L562.41,130.06 L562.71,130.59 L563.01,130.82 L563.31,131.31 L563.61,131.43 L563.91,130.59 L564.21,130.48 L564.51,130.83 L564.81,131.67 L565.12,130.78 L565.42,131.30 L565.72,132.00 L566.02,131.02 L566.32,131.20 L566.62,132.25 L566.92,131.93 L567.22,131.33 L567.52,130.56 L567.82,131.78 L568.12,131.32 L568.43,131.43 L568.73,131.61 L569.03,131.51 L569.33,130.95 L569.63,130.73 L569.93,131.19 L570.23,131.79 L570.53,131.72 L570.83,130.95 L571.13,130.71 L571.44,131.24 L571.74,130.96 L572.04,130.48 L572.34,131.57 L572.64,130.97 L572.94,129.96 L573.24,130.59 L573.54,131.31 L573.84,130.58 L574.14,131.31 L574.44,130.23 L574.75,130.83 L575.05,131.63 L575.35,131.05 L575.65,131.05 L575.95,130.43 L576.25,130.75 L576.75,141.25 L577.05,141.36 L577.36,141.23 L577.66,140.80 L577.96,140.93 L578.26,141.98 L578.57,140.76 L578.87,140.65 L579.17,140.66 L579.47,141.15 L579.78,141.73 L580.08,141.60 L580.38,142.16 L580.68,141.13 L580.99,141.28 L581.29,142.61 L581.59,141.83 L581.89,142.48 L582.20,141.90 L582.50,142.00 L582.81,141.21 L583.12,140.70 L583.44,140.37 L583.75,139.60 L584.06,140.65 L584.38,139.75 L584.69,140.02 L585.00,138.77 L585.31,139.29 L585.62,138.87 L585.94,138.87 L586.25,138.75 L586.56,138.55 L586.88,138.87 L587.19,137.23 L587.50,137.15 L587.81,135.10 L588.12,134.28 L588.44,133.77 L588.75,131.85 L589.06,130.93 L589.38,130.82 L589.69,129.62 L590.00,129.61 L590.31,128.15 L590.62,127.50 L590.94,127.28 L591.25,126.13 L591.56,126.62 L591.88,124.61 L592.19,123.78 L592.50,122.50 L592.81,121.73 L593.12,120.42 L593.44,119.79 L593.75,119.24 L594.06,118.61 L594.38,117.74 L594.69,116.60 L595.00,116.88 L595.31,115.64 L595.62,114.63 L595.94,114.87 L596.25,113.14 L596.56,112.53 L596.88,112.59 L597.19,111.19 L597.50,111.25 L597.81,111.00 L598.11,111.95 L598.42,110.70 L598.72,112.00 L599.03,111.15 L599.33,110.49 L599.64,110.67 L599.94,109.93 L600.25,110.71 L600.56,109.43 L600.86,109.99 L601.17,108.93 L601.47,108.03 L601.78,107.52 L602.08,108.06 L602.39,107.31 L602.69,108.27 L603.00,108.00 L603.30,107.76 L603.60,108.17 L603.90,108.42 L604.20,108.39 L604.50,108.93 L604.80,108.64 L605.10,109.03 L605.40,110.40 L605.70,109.73 L606.00,110.55 L606.30,109.69 L606.60,110.55 L606.90,110.29 L607.20,110.82 L607.50,111.25 L607.80,111.76 L608.10,113.16 L608.40,113.44 L608.70,114.65 L609.00,116.53 L609.30,117.54 L609.60,118.97 L609.90,120.18 L610.20,120.78 L610.50,122.50 L610.81,122.56 L611.12,122.92 L611.42,123.33 L611.73,122.91 L612.04,124.60 L612.35,124.60 L612.65,125.92 L612.96,126.00 L613.27,126.60 L613.58,128.43 L613.88,128.60 L614.19,128.66 L614.50,128.75 L614.85,127.16 L615.20,125.94 L615.55,124.67 L615.90,125.02 L616.25,125.00 L616.55,125.03 L616.85,124.24 L617.16,125.53 L617.46,125.30 L617.76,124.44 L618.06,124.46 L618.36,126.27 L618.66,126.28 L618.97,125.76 L619.27,126.37 L619.57,126.11 L619.87,127.24 L620.17,126.22 L620.47,127.39 L620.78,127.18 L621.08,126.23 L621.38,127.44 L621.68,127.10 L621.98,127.88 L622.28,127.99 L622.59,126.94 L622.89,126.49 L623.19,127.82 L623.49,126.80 L623.79,127.80 L624.09,127.59 L624.40,127.86 L624.70,128.06 L625.00,128.00 L625.30,128.19 L625.60,127.06 L625.91,127.95 L626.21,127.89 L626.51,126.71 L626.81,126.86 L627.11,127.23 L627.41,126.32 L627.72,125.82 L628.02,125.15 L628.32,125.00 L628.62,125.68 L628.92,125.94 L629.22,125.76 L629.53,125.89 L629.83,125.31 L630.13,126.00 L630.43,125.66 L630.73,124.64 L631.03,124.49 L631.34,124.85 L631.64,124.62 L631.94,125.35 L632.24,124.25 L632.54,124.20 L632.84,125.25 L633.15,124.05 L633.45,124.36 L633.75,123.75 L634.05,123.53 L634.35,124.07 L634.65,124.31 L634.95,123.22 L635.25,123.65 L635.55,123.54 L635.85,123.05 L636.15,122.57 L636.45,122.72 L636.75,122.35 L637.05,123.21 L637.35,122.78 L637.65,122.21 L637.95,122.57 L638.25,122.82 L638.55,122.26 L638.85,121.54 L639.15,121.00 L639.45,120.51 L639.75,121.79 L640.05,121.52 L640.35,120.53 L640.65,121.74 L640.95,121.84 L641.25,121.25 L641.56,121.38 L641.88,121.87 L642.19,121.15 L642.50,122.90 L642.81,123.13 L643.12,123.80 L643.44,124.78 L643.75,125.00 L644.06,126.23 L644.38,126.26 L644.69,126.69 L645.00,128.08 L645.31,129.28 L645.62,130.28 L645.94,129.85 L646.25,131.75 L646.56,132.62 L646.88,133.27 L647.19,133.36 L647.50,133.91 L647.81,135.79 L648.12,135.73 L648.44,137.22 L648.75,138.75 L649.05,139.38 L649.36,139.97 L649.66,139.38 L649.96,139.56 L650.27,139.25 L650.57,139.99 L650.87,140.97 L651.17,140.62 L651.48,142.15 L651.78,141.45 L652.08,141.89 L652.39,142.75 L652.69,141.22 L652.99,141.10 L653.30,141.91 L653.60,141.65 L653.90,142.72 L654.20,141.66 L654.51,143.30 L654.81,143.86 L655.11,144.28 L655.42,144.20 L655.72,144.49 L656.02,145.56 L656.33,145.61 L656.63,145.75 L656.93,145.90 L657.23,146.37 L657.54,147.10 L657.84,147.73 L658.14,148.23 L658.45,147.29 L658.75,147.50 L659.05,147.03 L659.36,146.88 L659.66,147.72 L659.96,147.58 L660.26,147.47 L660.57,147.61 L660.87,147.55 L661.17,146.92 L661.47,147.20 L661.78,145.80 L662.08,146.63 L662.38,146.30 L662.68,145.56 L662.99,145.81 L663.29,146.27 L663.59,145.28 L663.89,145.38 L664.20,145.10 L664.50,145.50 L664.80,145.68 L665.10,145.83 L665.40,146.45 L665.70,146.93 L666.00,147.07 L666.30,146.34 L666.60,146.21 L666.90,147.17 L667.20,146.34 L667.50,145.35 L667.80,146.87 L668.10,146.07 L668.40,146.05 L668.70,147.03 L669.00,146.80 L669.30,147.60 L669.60,148.11 L669.90,147.95 L670.20,148.94 L670.50,148.56 L670.80,149.29 L671.10,149.47 L671.40,148.66 L671.70,149.27 L672.00,148.76 L672.30,149.37 L672.60,150.08 L672.90,149.54 L673.20,149.81 L673.50,149.87 L673.80,149.22 L674.10,151.15 L674.40,151.13 L674.70,150.80 L675.00,151.25 L675.30,151.52 L675.61,150.97 L675.91,151.82 L676.22,151.05 L676.52,151.07 L676.83,151.73 L677.13,151.23 L677.44,151.99 L677.74,151.51 L678.05,151.91 L678.35,151.72 L678.66,152.77 L678.96,153.14 L679.27,152.39 L679.57,153.82 L679.88,153.24 L680.18,153.85 L680.49,153.60 L680.79,153.74 L681.10,152.44 L681.40,152.90 L681.71,153.70 L682.01,154.23 L682.32,154.03 L682.62,153.05 L682.93,154.04 L683.23,152.96 L683.54,153.50 L683.84,153.72 L684.15,152.32 L684.45,153.63 L684.76,153.59 L685.06,153.25 L685.37,153.52 L685.67,154.33 L685.98,155.30 L686.28,154.61 L686.59,153.55 L686.89,153.14 L687.20,153.72 L687.50,154.50 L687.80,154.98 L688.11,155.33 L688.41,155.36 L688.71,153.57 L689.02,154.06 L689.32,154.03 L689.62,154.92 L689.92,155.84 L690.23,156.02 L690.53,154.82 L690.83,155.05 L691.14,156.10 L691.44,155.83 L691.74,155.32 L692.05,155.72 L692.35,155.49 L692.65,156.96 L692.95,156.50 L693.26,157.58 L693.56,157.08 L693.86,156.12 L694.17,156.50 L694.47,156.26 L694.77,157.38 L695.08,156.85 L695.38,155.90 L695.68,156.10 L695.98,156.41 L696.29,156.93 L696.59,157.60 L696.89,157.75 L697.20,158.04 L697.50,158.00 L697.80,157.35 L698.11,157.01 L698.41,157.69 L698.71,157.58 L699.02,158.27 L699.32,158.08 L699.62,158.68 L699.92,158.62 L700.23,156.86 L700.53,157.61 L700.83,157.81 L701.14,157.82 L701.44,157.50 L701.74,157.10 L702.05,157.27 L702.35,157.03 L702.65,157.12 L702.95,158.21 L703.26,158.57 L703.56,158.95 L703.86,158.79 L704.17,158.41 L704.47,159.46 L704.77,159.37 L705.08,158.50 L705.38,158.23 L705.68,157.27 L705.98,157.13 L706.29,156.79 L706.59,156.25 L706.89,156.77 L707.20,157.39 L707.50,158.00 L707.80,157.68 L708.10,158.58 L708.40,157.25 L708.70,156.63 L709.00,156.22 L709.30,155.34 L709.60,154.69 L709.90,154.09 L710.20,154.07 L710.50,153.66 L710.80,153.94 L711.10,153.21 L711.40,153.44 L711.70,151.99 L712.00,152.55 L712.30,151.60 L712.60,150.37 L712.90,150.17 L713.20,150.47 L713.50,150.79 L713.80,149.41 L714.10,149.80 L714.40,148.90 L714.70,149.22 L715.00,148.75 L715.30,148.10 L715.60,146.84 L715.91,146.95 L716.21,146.41 L716.51,146.90 L716.81,147.14 L717.11,146.57 L717.41,145.61 L717.72,146.32 L718.02,146.34 L718.32,145.01 L718.62,143.41 L718.92,143.94 L719.22,143.33 L719.53,141.86 L719.83,141.10 L720.13,140.77 L720.43,140.95 L720.73,141.11 L721.03,140.22 L721.34,140.18 L721.64,138.45 L721.94,138.13 L722.24,138.32 L722.54,137.79 L722.84,137.04 L723.15,137.17 L723.45,136.83 L723.75,137.00 L724.05,136.36 L724.36,135.33 L724.66,135.59 L724.96,134.73 L725.26,136.09 L725.57,135.01 L725.87,135.27 L726.17,133.22 L726.47,133.71 L726.78,133.67 L727.08,133.02 L727.38,132.64 L727.68,132.76 L727.99,132.75 L728.29,133.50 L728.59,131.93 L728.89,132.73 L729.20,131.83 L729.50,131.75 L729.80,132.17 L730.10,132.15 L730.40,133.15 L730.70,132.63 L731.00,133.70 L731.30,134.04 L731.60,134.32 L731.90,133.79 L732.20,134.53 L732.50,134.50 L732.81,135.59 L733.12,136.14 L733.44,137.60 L733.75,138.57 L734.06,139.64 L734.38,139.82 L734.69,141.76 L735.00,141.34 L735.31,143.36 L735.62,143.36 L735.94,144.81 L736.25,146.25 L736.56,146.07 L736.88,145.53 L737.19,145.95 L737.50,147.28 L737.81,147.97 L738.12,147.31 L738.44,147.71 L738.75,149.60 L739.06,149.32 L739.38,151.20 L739.69,150.82 L740.00,151.49 L740.31,151.43 L740.62,152.64 L740.94,152.50 L741.25,152.50 L741.56,153.72 L741.88,152.60 L742.19,153.99 L742.50,154.50 L742.80,153.67 L743.10,153.97 L743.40,153.91 L743.70,154.98 L744.00,155.23 L744.30,154.50 L744.60,153.62 L744.90,153.48 L745.20,153.56 L745.50,153.75 L745.60,180.00 L746.90,256.00 L747.75,332.00 L748.10,372.00 L748.43,372.58 L748.76,372.62 L749.09,373.99 L749.42,374.03 L749.75,375.10 L750.00,408.00 L749.75,484.00 L750.60,517.10 L751.20,484.00 L753.50,451.10 L754.40,459.25 L755.50,461.00 L756.90,469.25 L757.20,469.34 L757.50,469.80 L757.80,469.95 L758.10,469.64 L758.40,470.30 L758.70,470.96 L759.00,471.10 L760.00,460.50 L762.50,419.90 L762.81,419.51 L763.12,419.15 L763.44,417.42 L763.75,417.29 L764.06,416.26 L764.38,416.35 L764.69,416.05 L765.00,414.83 L765.31,414.98 L765.62,414.47 L765.94,413.00 L766.25,412.40 L766.56,411.86 L766.88,410.47 L767.19,410.81 L767.50,409.69 L767.81,409.75 L768.12,410.33 L768.44,409.62 L768.75,409.25 L769.00,408.00 L769.20,407.50 L770.60,394.50 L771.80,382.00 L772.75,369.50 L773.60,350.00 L774.40,332.00 L775.70,294.00 L777.00,256.00 L778.00,225.00 L778.90,188.00 L779.00,533.00 L779.00,521.75 L779.30,521.64 L779.60,521.68 L779.90,521.99 L780.20,522.01 L780.50,521.80 L780.80,521.98 L781.10,521.84 L781.40,521.90 L781.70,521.74 L782.00,521.68 L782.30,522.11 L782.60,521.84 L782.90,522.10 L783.20,521.77 L783.50,521.75 L784.00,536.50 L785.40,549.25 L787.25,526.50 L789.00,484.00 L789.40,463.00 L791.00,408.00 L791.25,375.10 L791.56,374.27 L791.88,372.65 L792.19,372.35 L792.50,371.06 L792.81,369.87 L793.12,369.42 L793.44,368.98 L793.75,368.25 L794.06,368.34 L794.38,367.96 L794.69,366.78 L795.00,366.04 L795.31,365.69 L795.62,365.01 L795.94,364.99 L796.25,365.10 L796.56,365.05 L796.87,364.92 L797.18,364.61 L797.49,364.43 L797.80,364.44 L798.11,364.69 L798.42,364.47 L798.74,364.18 L799.05,363.71 L799.36,363.43 L799.67,363.33 L799.98,363.77 L800.29,363.00 L800.60,363.00 L800.92,362.84 L801.23,363.46 L801.55,364.11 L801.87,363.41 L802.18,364.08 L802.50,364.50 L804.00,332.00 L804.00,324.10 L804.32,323.42 L804.64,322.57 L804.96,321.92 L805.28,320.60 L805.60,320.40 L805.91,320.45 L806.23,320.46 L806.54,319.71 L806.85,319.47 L807.17,319.77 L807.48,318.79 L807.80,319.18 L808.11,319.24 L808.42,318.69 L808.74,318.85 L809.05,318.24 L809.36,318.16 L809.68,318.02 L809.99,317.82 L810.30,317.11 L810.62,317.19 L810.93,316.79 L811.25,316.26 L811.56,316.77 L811.87,316.41 L812.19,316.74 L812.50,316.00 L812.81,315.44 L813.12,315.94 L813.44,315.20 L813.75,314.93 L814.06,314.49 L814.38,314.38 L814.69,313.24 L815.00,312.71 L815.31,313.10 L815.62,312.28 L815.94,312.04 L816.25,311.60 L816.56,311.64 L816.87,311.73 L817.18,311.85 L817.50,311.67 L817.81,311.95 L818.12,312.44 L818.43,312.07 L818.74,311.95 L819.05,311.42 L819.36,311.44 L819.67,311.82 L819.99,311.12 L820.30,310.48 L820.61,310.53 L820.92,311.01 L821.23,311.07 L821.54,310.44 L821.85,311.19 L822.17,310.96 L822.48,311.29 L822.79,311.07 L823.10,311.00 L823.41,310.50 L823.73,310.17 L824.04,310.69 L824.36,310.05 L824.67,310.00 L824.98,309.81 L825.30,310.43 L825.61,309.45 L825.92,310.01 L826.24,310.04 L826.55,309.01 L826.87,309.04 L827.18,309.23 L827.49,308.89 L827.81,308.56 L828.12,308.13 L828.44,308.87 L828.75,309.10 L829.07,308.98 L829.39,308.45 L829.70,308.37 L830.02,308.36 L830.34,308.30 L830.66,306.95 L830.98,307.41 L831.30,306.79 L831.61,306.15 L831.93,306.28 L832.25,306.00 L833.10,287.25 L833.75,258.50 L834.06,258.00 L834.38,257.37 L834.69,257.43 L835.00,256.83 L835.31,255.94 L835.62,256.59 L835.94,256.36 L836.25,256.00 L836.56,255.30 L836.88,254.83 L837.19,254.30 L837.50,254.12 L837.81,253.05 L838.12,252.25 L838.44,250.96 L838.75,249.64 L839.06,249.72 L839.38,248.89 L839.69,248.34 L840.00,247.50 L840.31,246.74 L840.63,245.74 L840.94,245.68 L841.26,244.59 L841.57,243.22 L841.89,243.37 L842.20,242.82 L842.51,241.96 L842.83,240.86 L843.14,240.97 L843.46,239.97 L843.77,239.49 L844.09,239.34 L844.40,238.75 L845.60,203.75 L845.91,202.64 L846.23,200.93 L846.54,200.71 L846.85,198.48 L847.16,196.76 L847.48,195.10 L847.79,193.60 L848.10,192.50 L848.41,192.57 L848.73,192.30 L849.04,191.61 L849.36,189.80 L849.67,188.99 L849.98,188.09 L850.30,188.26 L850.61,187.34 L850.92,186.84 L851.24,186.21 L851.55,185.70 L851.87,184.65 L852.18,184.72 L852.49,182.95 L852.81,183.35 L853.12,181.91 L853.44,181.02 L853.75,181.25 L854.06,180.52 L854.38,179.87 L854.69,180.48 L855.00,179.35 L855.31,179.58 L855.62,179.26 L855.94,178.41 L856.25,178.00 L857.50,185.00 L857.81,185.97 L858.12,187.58 L858.44,187.80 L858.75,190.41 L859.06,189.71 L859.38,191.24 L859.69,191.18 L860.00,193.09 L860.31,193.67 L860.62,195.27 L860.94,195.65 L861.25,196.25 L861.56,196.36 L861.88,197.80 L862.19,196.80 L862.50,196.82 L862.81,196.80 L863.12,197.95 L863.44,198.21 L863.75,197.28 L864.06,197.85 L864.38,197.33 L864.69,198.57 L865.00,198.75 L865.32,198.89 L865.63,199.70 L865.95,199.17 L866.27,199.46 L866.58,200.52 L866.90,201.25 L867.21,201.07 L867.52,201.62 L867.84,200.93 L868.15,201.83 L868.46,201.91 L868.77,201.07 L869.09,200.97 L869.40,201.50 L870.25,182.50 L870.57,182.22 L870.88,182.52 L871.20,181.97 L871.52,182.35 L871.83,181.35 L872.15,182.20 L872.47,180.63 L872.78,181.62 L873.10,181.38 L873.42,180.92 L873.73,180.20 L874.05,179.79 L874.37,179.88 L874.68,180.37 L875.00,180.00 L875.31,179.98 L875.62,179.74 L875.94,179.43 L876.25,178.46 L876.56,177.57 L876.88,176.83 L877.19,176.82 L877.50,176.25 L877.80,176.80 L878.10,175.99 L878.40,176.59 L878.70,175.69 L879.00,174.25 L879.30,174.95 L879.60,175.36 L879.90,175.24 L880.20,176.30 L880.50,175.56 L880.80,176.05 L881.10,174.67 L881.40,173.74 L881.70,174.32 L882.00,174.50 L883.00,168.75 L883.30,167.96 L883.61,168.35 L883.91,167.64 L884.22,168.56 L884.52,168.29 L884.83,168.38 L885.13,168.91 L885.43,168.11 L885.74,168.17 L886.04,169.35 L886.35,168.14 L886.65,168.83 L886.96,168.71 L887.26,167.87 L887.57,167.16 L887.87,166.92 L888.17,168.11 L888.48,166.66 L888.78,167.07 L889.09,166.84 L889.39,165.83 L889.70,166.59 L890.00,167.00 L890.30,167.10 L890.60,167.05 L890.90,167.59 L891.20,168.46 L891.50,170.22 L891.80,170.07 L892.10,171.22 L892.40,170.22 L892.70,172.28 L893.00,172.00 L893.30,172.94 L893.60,173.00 L893.90,173.64 L894.20,173.64 L894.50,174.50 L895.50,162.00 L895.83,162.96 L896.15,163.09 L896.48,164.53 L896.80,163.92 L897.12,165.68 L897.45,166.03 L897.77,167.49 L898.10,168.49 L898.42,169.33 L898.75,170.50 L899.06,170.39 L899.38,170.54 L899.69,171.13 L900.00,170.70 L900.31,171.98 L900.62,171.87 L900.94,173.14 L901.25,172.07 L901.56,174.15 L901.88,173.76 L902.19,173.88 L902.50,173.75 L902.80,173.16 L903.10,172.30 L903.40,172.47 L903.70,172.59 L904.00,172.85 L904.30,174.18 L904.60,174.45 L904.90,174.34 L905.20,174.04 L905.50,174.31 L905.80,174.76 L906.10,174.95 L906.40,174.66 L906.70,174.09 L907.00,173.75 L908.25,140.00 L908.60,138.66 L908.95,138.97 L909.30,137.90 L909.65,137.03 L910.00,136.25 L910.31,137.27 L910.62,138.00 L910.94,137.69 L911.25,137.81 L911.56,137.95 L911.88,137.78 L912.19,137.71 L912.50,138.56 L912.81,138.27 L913.12,138.20 L913.44,137.41 L913.75,138.00 L914.06,138.10 L914.36,138.41 L914.67,138.78 L914.97,138.06 L915.28,137.77 L915.58,137.29 L915.89,138.02 L916.19,138.11 L916.50,137.98 L916.81,138.49 L917.11,137.76 L917.42,136.51 L917.72,135.44 L918.03,135.87 L918.33,135.65 L918.64,135.08 L918.94,135.79 L919.25,136.48 L919.56,136.68 L919.86,135.62 L920.17,136.22 L920.47,135.20 L920.78,135.14 L921.08,136.11 L921.39,135.22 L921.69,135.14 L922.00,134.50 L922.31,133.91 L922.61,133.31 L922.92,133.16 L923.22,134.14 L923.53,133.90 L923.83,133.50 L924.14,133.30 L924.44,133.76 L924.75,134.06 L925.06,133.20 L925.36,133.15 L925.67,132.97 L925.97,131.38 L926.28,132.19 L926.58,130.94 L926.89,132.12 L927.19,131.50 L927.50,132.00 L927.80,132.09 L928.10,131.35 L928.41,132.20 L928.71,131.54 L929.01,132.07 L929.31,133.19 L929.61,132.01 L929.91,132.26 L930.22,130.97 L930.52,130.79 L930.82,130.11 L931.12,130.74 L931.42,131.12 L931.72,130.39 L932.03,130.02 L932.33,130.88 L932.63,131.05 L932.93,130.89 L933.23,130.11 L933.53,131.26 L933.84,131.18 L934.14,131.89 L934.44,130.67 L934.74,130.98 L935.04,130.72 L935.34,130.08 L935.65,130.29 L935.95,130.60 L936.25,131.05 L936.55,130.40 L936.85,130.23 L937.16,131.19 L937.46,129.32 L937.76,130.34 L938.06,129.78 L938.36,129.26 L938.66,128.79 L938.97,129.28 L939.27,129.49 L939.57,129.18 L939.87,129.19 L940.17,127.94 L940.47,128.54 L940.78,128.35 L941.08,129.86 L941.38,129.89 L941.68,128.75 L941.98,129.41 L942.28,129.11 L942.59,127.92 L942.89,128.23 L943.19,128.55 L943.49,128.20 L943.79,127.73 L944.09,128.69 L944.40,128.03 L944.70,128.09 L945.00,127.50 L945.30,127.17 L945.61,127.81 L945.91,128.43 L946.22,128.56 L946.52,127.99 L946.83,127.46 L947.13,127.87 L947.44,128.26 L947.74,126.82 L948.05,127.57 L948.35,126.55 L948.66,126.79 L948.96,126.35 L949.27,126.76 L949.57,126.91 L949.88,127.82 L950.18,127.68 L950.49,126.22 L950.79,126.30 L951.10,127.24 L951.40,125.80 L951.71,125.80 L952.01,125.79 L952.32,125.02 L952.62,125.06 L952.93,125.23 L953.23,125.42 L953.54,126.60 L953.84,125.62 L954.15,125.71 L954.45,127.01 L954.76,126.04 L955.06,126.50 L955.37,125.97 L955.67,126.02 L955.98,125.05 L956.28,124.69 L956.59,125.64 L956.89,125.07 L957.20,124.86 L957.50,124.50 L957.81,124.30 L958.11,124.72 L958.42,123.88 L958.72,124.55 L959.03,122.95 L959.33,123.78 L959.64,122.83 L959.94,121.97 L960.25,122.46 L960.56,121.11 L960.86,120.87 L961.17,120.37 L961.47,120.98 L961.78,121.25 L962.08,121.17 L962.39,120.76 L962.69,120.88 L963.00,120.00 L963.30,118.76 L963.61,116.98 L963.91,116.95 L964.21,115.66 L964.51,114.05 L964.82,113.25 L965.12,113.07 L965.42,111.41 L965.72,110.25 L966.03,110.53 L966.33,109.07 L966.63,108.16 L966.93,107.52 L967.24,107.03 L967.54,104.58 L967.84,103.71 L968.14,102.03 L968.45,101.23 L968.75,100.00 L969.06,98.89 L969.38,98.93 L969.69,98.00 L970.00,97.25 L970.31,95.25 L970.62,95.05 L970.94,94.10 L971.25,92.58 L971.56,92.17 L971.88,91.08 L972.19,89.77 L972.50,88.86 L972.81,87.53 L973.12,86.87 L973.44,84.56 L973.75,84.45 L974.06,83.37 L974.38,82.13 L974.69,80.72 L975.00,80.00 L975.31,78.65 L975.62,77.46 L975.94,78.04 L976.25,78.14 L976.56,77.25 L976.88,75.90 L977.19,75.88 L977.50,74.22 L977.81,74.46 L978.12,72.53 L978.44,71.43 L978.75,71.25 L979.08,71.10 L979.40,71.03 L979.73,69.19 L980.05,70.31 L980.38,69.01 L980.70,69.13 L981.02,69.65 L981.35,68.83 L981.67,69.03 L982.00,69.50 L983.00,90.00 L983.33,91.11 L983.65,91.47 L983.98,91.23 L984.30,93.57 L984.62,93.59 L984.95,95.69 L985.27,96.56 L985.60,96.40 L985.92,97.84 L986.25,98.75 L986.56,99.06 L986.88,100.37 L987.19,100.82 L987.50,100.72 L987.81,101.19 L988.12,100.32 L988.44,101.64 L988.75,100.28 L989.06,101.35 L989.38,101.15 L989.69,102.13 L990.00,102.50 L990.33,103.41 L990.65,104.11 L990.98,104.72 L991.30,106.28 L991.62,106.47 L991.95,106.91 L992.27,107.10 L992.60,108.63 L992.92,108.81 L993.25,110.00 L993.60,109.58 L993.95,109.77 L994.30,109.43 L994.65,108.42 L995.00,107.50 L995.75,100.00 L996.06,99.82 L996.36,99.45 L996.67,98.71 L996.98,99.09 L997.28,99.55 L997.59,98.40 L997.90,97.98 L998.20,98.22 L998.51,98.52 L998.82,99.28 L999.12,98.96 L999.43,98.20 L999.74,97.44 L1000.05,97.74 L1000.35,98.23 L1000.66,99.69 L1000.97,99.58 L1001.27,100.65 L1001.58,100.38 L1001.89,100.05 L1002.19,99.10 L1002.50,98.75 L1002.81,98.48 L1003.12,97.41 L1003.44,98.27 L1003.75,97.28 L1004.06,97.43 L1004.38,97.25 L1004.69,96.07 L1005.00,96.33 L1005.31,95.78 L1005.62,96.54 L1005.94,96.63 L1006.25,95.47 L1006.56,94.99 L1006.88,95.07 L1007.19,95.34 L1007.50,95.00 L1007.80,94.69 L1008.10,93.43 L1008.40,93.58 L1008.70,93.81 L1009.00,93.98 L1009.30,93.59 L1009.60,94.15 L1009.90,93.70 L1010.20,94.06 L1010.50,95.48 L1010.80,94.47 L1011.10,93.88 L1011.40,94.58 L1011.70,93.67 L1012.00,93.68 L1012.30,93.86 L1012.60,93.82 L1012.90,93.65 L1013.20,93.52 L1013.50,92.81 L1013.80,91.88 L1014.10,92.69 L1014.40,91.25 L1014.70,92.13 L1015.00,92.50 L1015.31,92.91 L1015.62,93.54 L1015.94,93.64 L1016.25,93.56 L1016.56,95.20 L1016.88,95.01 L1017.19,94.55 L1017.50,95.00 L1017.81,96.10 L1018.12,97.70 L1018.44,98.76 L1018.75,100.33 L1019.06,99.62 L1019.38,100.19 L1019.69,101.88 L1020.00,102.50 L1020.75,98.75 L1021.05,100.37 L1021.35,100.42 L1021.65,101.89 L1021.95,103.04 L1022.25,103.25 L1022.55,104.81 L1022.85,104.77 L1023.15,105.67 L1023.45,107.47 L1023.75,109.50 L1024.06,109.51 L1024.38,109.81 L1024.69,108.96 L1025.00,109.95 L1025.31,109.96 L1025.62,110.57 L1025.94,109.59 L1026.25,111.60 L1026.56,111.66 L1026.88,112.68 L1027.19,112.16 L1027.50,112.39 L1027.81,112.37 L1028.12,112.74 L1028.44,111.54 L1028.75,111.40 L1029.06,112.13 L1029.38,111.60 L1029.69,112.00 L1030.00,112.50 L1030.30,111.80 L1030.61,112.94 L1030.91,112.62 L1031.22,112.69 L1031.52,112.66 L1031.83,113.55 L1032.13,113.48 L1032.44,113.20 L1032.74,111.65 L1033.05,111.83 L1033.35,111.98 L1033.66,113.20 L1033.96,112.59 L1034.27,113.81 L1034.57,114.88 L1034.88,114.72 L1035.18,113.48 L1035.49,113.64 L1035.79,113.76 L1036.10,114.80 L1036.40,114.61 L1036.71,114.38 L1037.01,114.16 L1037.32,113.97 L1037.62,114.22 L1037.93,114.18 L1038.23,114.54 L1038.54,114.13 L1038.84,114.14 L1039.15,114.24 L1039.45,114.12 L1039.76,114.22 L1040.06,113.36 L1040.37,114.78 L1040.67,115.37 L1040.98,114.91 L1041.28,115.53 L1041.59,114.19 L1041.89,115.34 L1042.20,114.64 L1042.50,115.00 L1042.80,115.43 L1043.11,115.77 L1043.41,115.88 L1043.72,115.32 L1044.02,114.35 L1044.33,114.37 L1044.63,114.73 L1044.94,114.14 L1045.24,114.58 L1045.55,115.78 L1045.85,115.92 L1046.16,115.00 L1046.46,115.84 L1046.77,115.93 L1047.07,116.21 L1047.38,116.11 L1047.68,115.71 L1047.99,115.03 L1048.29,116.31 L1048.60,115.49 L1048.90,116.02 L1049.21,115.53 L1049.51,115.78 L1049.82,116.46 L1050.12,115.04 L1050.43,115.73 L1050.73,116.15 L1051.04,116.19 L1051.34,117.09 L1051.65,116.41 L1051.95,117.52 L1052.26,117.45 L1052.56,118.24 L1052.87,117.06 L1053.17,117.58 L1053.48,117.97 L1053.78,118.93 L1054.09,117.32 L1054.39,117.65 L1054.70,117.89 L1055.00,117.50 L1055.30,117.57 L1055.61,118.35 L1055.91,117.21 L1056.21,116.97 L1056.52,118.01 L1056.82,117.68 L1057.12,117.82 L1057.42,118.15 L1057.73,118.28 L1058.03,118.66 L1058.33,118.22 L1058.64,118.03 L1058.94,118.25 L1059.24,118.38 L1059.55,119.08 L1059.85,118.80 L1060.15,118.84 L1060.45,119.58 L1060.76,120.49 L1061.06,120.13 L1061.36,119.54 L1061.67,120.50 L1061.97,119.62 L1062.27,119.59 L1062.58,120.03 L1062.88,120.31 L1063.18,120.88 L1063.48,120.56 L1063.79,120.95 L1064.09,119.71 L1064.39,120.96 L1064.70,120.10 L1065.00,120.50 L1065.30,120.38 L1065.61,121.06 L1065.91,119.33 L1066.21,119.72 L1066.52,119.37 L1066.82,119.85 L1067.12,119.39 L1067.42,119.68 L1067.73,119.95 L1068.03,121.40 L1068.33,120.02 L1068.64,120.12 L1068.94,119.62 L1069.24,118.67 L1069.55,118.58 L1069.85,118.76 L1070.15,120.46 L1070.45,119.49 L1070.76,121.13 L1071.06,120.03 L1071.36,120.56 L1071.67,119.49 L1071.97,120.51 L1072.27,119.50 L1072.58,119.58 L1072.88,119.72 L1073.18,118.90 L1073.48,119.02 L1073.79,119.73 L1074.09,118.61 L1074.39,118.52 L1074.70,118.86 L1075.00,118.75 L1075.31,117.68 L1075.62,117.31 L1075.94,115.22 L1076.25,115.56 L1076.56,115.15 L1076.88,113.45 L1077.19,112.43 L1077.50,112.45 L1077.81,111.22 L1078.12,111.13 L1078.44,110.95 L1078.75,109.29 L1079.06,108.73 L1079.38,108.73 L1079.69,107.61 L1080.00,107.01 L1080.31,106.66 L1080.62,105.42 L1080.94,105.14 L1081.25,105.00 L1081.55,104.79 L1081.85,104.78 L1082.16,104.27 L1082.46,102.67 L1082.76,103.78 L1083.06,102.91 L1083.36,102.27 L1083.66,102.00 L1083.97,103.02 L1084.27,101.62 L1084.57,100.82 L1084.87,100.55 L1085.17,101.09 L1085.47,99.73 L1085.78,99.59 L1086.08,97.84 L1086.38,97.86 L1086.68,97.00 L1086.98,96.18 L1087.28,96.54 L1087.59,95.71 L1087.89,94.99 L1088.19,96.15 L1088.49,94.98 L1088.79,94.31 L1089.09,93.89 L1089.40,94.85 L1089.70,94.31 L1090.00,93.75 L1090.31,92.92 L1090.62,92.42 L1090.94,91.33 L1091.25,92.23 L1091.56,92.25 L1091.88,91.59 L1092.19,91.48 L1092.50,90.34 L1092.81,90.94 L1093.12,89.41 L1093.44,88.95 L1093.75,89.05 L1094.06,89.03 L1094.38,87.10 L1094.69,86.80 L1095.00,85.90 L1095.31,86.01 L1095.62,84.92 L1095.94,84.91 L1096.25,85.00 L1096.56,84.20 L1096.88,84.91 L1097.19,82.97 L1097.50,82.66 L1097.81,82.31 L1098.12,82.64 L1098.44,81.45 L1098.75,81.89 L1099.06,80.31 L1099.38,78.68 L1099.69,78.47 L1100.00,77.50 L1100.31,76.55 L1100.62,76.25 L1100.94,75.95 L1101.25,76.32 L1101.56,74.23 L1101.88,73.83 L1102.19,72.48 L1102.50,72.62 L1102.81,70.41 L1103.12,70.64 L1103.44,69.68 L1103.75,69.50 L1104.10,69.34 L1104.45,69.15 L1104.80,70.80 L1105.15,69.76 L1105.50,70.00 L1107.00,75.00 L1107.65,192.00 L1107.75,522.25 L1108.05,521.80 L1108.35,521.40 L1108.65,521.98 L1108.95,521.90 L1109.25,521.93 L1109.55,522.47 L1109.85,522.17 L1110.15,522.38 L1110.45,522.46 L1110.75,521.61 L1111.05,522.47 L1111.35,521.88 L1111.65,521.51 L1111.95,522.07 L1112.25,521.50 L1112.75,538.50 L1113.05,538.44 L1113.35,538.42 L1113.65,538.44 L1113.95,538.11 L1114.25,538.05 L1114.55,538.43 L1114.85,538.32 L1115.16,538.19 L1115.46,538.45 L1115.76,538.30 L1116.06,538.30 L1116.36,538.36 L1116.66,538.43 L1116.96,538.50 L1117.26,538.24 L1117.56,538.58 L1117.86,538.61 L1118.16,538.63 L1118.46,538.79 L1118.76,538.93 L1119.06,538.64 L1119.37,538.83 L1119.67,538.91 L1119.97,538.91 L1120.27,538.88 L1120.57,538.66 L1120.87,538.94 L1121.17,538.82 L1121.47,538.54 L1121.77,538.57 L1122.07,538.76 L1122.37,538.45 L1122.67,538.56 L1122.97,538.81 L1123.27,538.80 L1123.58,538.53 L1123.88,538.78 L1124.18,538.66 L1124.48,538.83 L1124.78,538.92 L1125.08,538.69 L1125.38,538.73 L1125.68,538.73 L1125.98,538.75 L1126.28,538.65 L1126.58,538.69 L1126.88,538.79 L1127.18,538.79 L1127.48,538.63 L1127.78,538.83 L1128.09,538.96 L1128.39,538.80 L1128.69,538.69 L1128.99,538.82 L1129.29,538.70 L1129.59,538.57 L1129.89,538.68 L1130.19,538.44 L1130.49,538.68 L1130.79,538.41 L1131.09,538.46 L1131.39,538.69 L1131.69,538.62 L1131.99,538.67 L1132.30,538.60 L1132.60,538.62 L1132.90,538.67 L1133.20,538.84 L1133.50,538.56 L1133.80,538.85 L1134.10,538.73 L1134.40,538.75 L1135.60,525.00 L1136.50,490.00 L1137.50,444.50 L1138.75,430.10 L1139.06,429.93 L1139.38,429.65 L1139.69,429.11 L1140.00,428.81 L1140.31,429.03 L1140.62,428.85 L1140.94,427.91 L1141.25,427.60 L1141.57,426.84 L1141.88,426.39 L1142.19,426.35 L1142.51,426.80 L1142.83,427.05 L1143.14,425.89 L1143.46,426.00 L1143.77,426.97 L1144.09,427.04 L1144.40,427.00 L1144.71,426.93 L1145.02,427.01 L1145.33,427.06 L1145.64,427.13 L1145.95,427.48 L1146.26,427.88 L1146.57,428.11 L1146.88,429.06 L1147.19,429.36 L1147.50,429.50 L1147.81,429.75 L1148.12,429.86 L1148.44,431.31 L1148.75,431.44 L1149.06,431.15 L1149.38,431.59 L1149.69,432.24 L1150.00,432.25 L1151.50,422.00 L1154.00,346.00 L1155.00,315.00 L1155.31,314.70 L1155.62,313.67 L1155.93,313.92 L1156.24,313.13 L1156.55,313.41 L1156.86,312.92 L1157.17,312.30 L1157.48,311.03 L1157.79,310.64 L1158.10,310.60 L1158.41,310.46 L1158.73,309.80 L1159.04,309.44 L1159.36,309.26 L1159.67,308.95 L1159.98,308.67 L1160.30,307.34 L1160.61,307.66 L1160.92,306.56 L1161.24,306.32 L1161.55,306.41 L1161.87,306.15 L1162.18,305.73 L1162.49,305.81 L1162.81,304.78 L1163.12,304.71 L1163.44,304.84 L1163.75,304.40 L1164.06,304.30 L1164.38,303.96 L1164.69,303.19 L1165.00,303.01 L1165.31,303.30 L1165.62,302.37 L1165.94,302.90 L1166.25,302.14 L1166.56,301.96 L1166.88,302.38 L1167.19,301.98 L1167.50,302.93 L1167.81,302.89 L1168.12,302.42 L1168.44,302.13 L1168.75,301.90 L1169.06,302.22 L1169.38,302.10 L1169.69,301.60 L1170.00,301.25 L1170.31,301.43 L1170.62,301.24 L1170.94,301.70 L1171.25,301.13 L1171.56,301.39 L1171.88,301.72 L1172.19,302.15 L1172.50,302.36 L1172.81,301.64 L1173.12,301.49 L1173.44,301.83 L1173.75,301.59 L1174.06,301.24 L1174.38,300.66 L1174.69,301.46 L1175.00,301.90 L1175.31,301.96 L1175.62,300.95 L1175.93,300.98 L1176.24,300.79 L1176.55,300.04 L1176.86,299.43 L1177.17,299.91 L1177.48,299.61 L1177.79,299.25 L1178.10,299.40 L1178.42,298.11 L1178.73,297.33 L1179.05,297.34 L1179.37,295.69 L1179.68,295.21 L1180.00,295.00 L1181.25,270.00 L1181.50,253.75 L1181.82,252.71 L1182.14,251.80 L1182.46,252.09 L1182.79,251.33 L1183.11,250.94 L1183.43,250.66 L1183.75,250.50 L1184.06,250.44 L1184.38,250.10 L1184.69,250.71 L1185.00,250.32 L1185.31,249.98 L1185.62,249.69 L1185.94,249.49 L1186.25,249.01 L1186.56,247.79 L1186.88,247.37 L1187.19,248.11 L1187.50,246.93 L1187.81,247.61 L1188.12,246.88 L1188.44,246.61 L1188.75,246.57 L1189.06,246.77 L1189.38,247.34 L1189.69,246.37 L1190.00,246.25 L1190.31,246.19 L1190.62,245.71 L1190.94,245.61 L1191.25,245.71 L1191.56,245.54 L1191.88,244.98 L1192.19,244.60 L1192.50,245.00 L1193.75,206.25 L1194.10,205.83 L1194.45,205.90 L1194.80,205.41 L1195.15,204.36 L1195.50,203.75 L1195.80,203.26 L1196.10,203.58 L1196.40,202.78 L1196.70,202.83 L1197.00,202.92 L1197.30,202.54 L1197.60,201.70 L1197.90,202.28 L1198.20,201.92 L1198.50,201.92 L1198.80,201.40 L1199.10,201.22 L1199.40,201.08 L1199.70,200.46 L1200.00,200.50 L1200.31,200.20 L1200.62,199.19 L1200.94,199.09 L1201.25,198.40 L1201.56,198.05 L1201.88,196.79 L1202.19,197.35 L1202.50,196.74 L1202.81,195.78 L1203.12,194.88 L1203.44,193.28 L1203.75,193.39 L1204.06,192.60 L1204.38,192.08 L1204.69,191.67 L1205.00,191.25 L1205.31,190.47 L1205.62,190.07 L1205.94,188.78 L1206.25,189.31 L1206.56,187.61 L1206.88,186.62 L1207.19,185.88 L1207.50,186.30 L1207.81,184.20 L1208.12,183.47 L1208.44,182.20 L1208.75,181.70 L1209.06,181.26 L1209.38,179.45 L1209.69,179.41 L1210.00,178.75 L1210.31,178.47 L1210.62,177.11 L1210.94,176.97 L1211.25,176.43 L1211.56,175.45 L1211.88,174.95 L1212.19,174.39 L1212.50,174.73 L1212.81,173.56 L1213.12,171.98 L1213.44,171.44 L1213.75,170.64 L1214.06,170.70 L1214.38,169.29 L1214.69,167.77 L1215.00,167.50 L1215.31,167.15 L1215.62,165.76 L1215.94,163.87 L1216.25,163.30 L1216.56,163.36 L1216.88,162.85 L1217.19,161.84 L1217.50,161.25 L1217.83,162.02 L1218.17,163.34 L1218.50,163.35 L1218.83,163.85 L1219.17,164.53 L1219.50,164.50 L1219.80,164.54 L1220.10,163.30 L1220.40,163.06 L1220.70,162.13 L1221.00,161.57 L1221.30,160.23 L1221.60,161.16 L1221.90,160.78 L1222.20,159.79 L1222.50,159.50 L1222.80,159.93 L1223.10,160.25 L1223.40,159.09 L1223.70,159.75 L1224.00,158.24 L1224.30,158.28 L1224.60,159.44 L1224.90,160.46 L1225.20,160.16 L1225.50,159.50 L1227.00,153.75 L1228.25,157.50 L1228.60,156.13 L1228.95,155.16 L1229.30,154.04 L1229.65,152.19 L1230.00,150.50 L1231.25,157.50 L1231.56,158.16 L1231.88,158.53 L1232.19,158.31 L1232.50,158.58 L1232.81,159.79 L1233.12,161.06 L1233.44,161.81 L1233.75,162.50 L1234.08,163.54 L1234.40,163.39 L1234.72,165.05 L1235.05,166.41 L1235.38,167.65 L1235.70,168.78 L1236.03,169.82 L1236.35,169.83 L1236.67,171.52 L1237.00,172.50 L1237.35,173.85 L1237.70,174.41 L1238.05,177.31 L1238.40,179.40 L1238.75,180.75 L1239.06,180.32 L1239.38,180.85 L1239.69,180.22 L1240.00,180.39 L1240.31,180.50 L1240.62,181.09 L1240.94,181.41 L1241.25,181.25 L1242.50,183.75 L1242.81,182.66 L1243.12,181.73 L1243.44,181.44 L1243.75,180.28 L1244.06,180.28 L1244.38,179.72 L1244.69,180.08 L1245.00,179.50 L1245.31,179.14 L1245.62,178.86 L1245.94,179.98 L1246.25,180.49 L1246.56,179.59 L1246.88,179.12 L1247.19,178.85 L1247.50,178.33 L1247.81,178.52 L1248.12,177.62 L1248.44,176.92 L1248.75,177.84 L1249.06,177.05 L1249.38,175.79 L1249.69,176.93 L1250.00,176.75 L1250.31,176.14 L1250.62,176.64 L1250.94,176.80 L1251.25,176.25 L1251.56,175.56 L1251.88,175.01 L1252.19,174.68 L1252.50,172.61 L1252.81,172.19 L1253.12,172.21 L1253.44,171.27 L1253.75,170.50 L1254.06,170.09 L1254.38,169.64 L1254.69,170.75 L1255.00,170.37 L1255.31,168.59 L1255.62,168.63 L1255.94,168.42 L1256.25,167.98 L1256.56,167.86 L1256.88,168.86 L1257.19,168.03 L1257.50,168.43 L1257.81,168.61 L1258.12,167.61 L1258.44,166.68 L1258.75,166.25 L1259.06,165.76 L1259.38,165.27 L1259.69,166.04 L1260.00,165.23 L1260.31,164.72 L1260.62,164.74 L1260.94,165.50 L1261.25,164.31 L1261.56,165.11 L1261.88,163.88 L1262.19,164.07 L1262.50,163.75 L1262.81,164.50 L1263.12,162.86 L1263.44,162.83 L1263.75,163.00 L1264.06,162.75 L1264.38,162.70 L1264.69,162.02 L1265.00,162.65 L1265.31,161.39 L1265.62,162.97 L1265.94,162.21 L1266.25,162.00 L1266.56,162.12 L1266.88,163.94 L1267.19,164.76 L1267.50,165.51 L1267.81,166.91 L1268.12,166.07 L1268.44,166.83 L1268.75,167.50 L1271.25,182.50 L1271.56,182.53 L1271.88,182.65 L1272.19,183.50 L1272.50,185.04 L1272.81,186.43 L1273.12,188.22 L1273.44,188.55 L1273.75,189.50 L1274.06,190.78 L1274.38,191.23 L1274.69,190.44 L1275.00,190.56 L1275.31,190.63 L1275.62,191.32 L1275.94,192.33 L1276.25,191.53 L1276.56,192.69 L1276.88,193.30 L1277.19,192.50 L1277.50,193.50 L1277.81,194.41 L1278.12,194.35 L1278.44,194.45 L1278.75,195.55 L1279.06,195.43 L1279.38,195.35 L1279.69,196.20 L1280.00,197.00 L1280.31,197.40 L1280.62,198.00 L1280.92,198.57 L1281.23,197.95 L1281.54,199.13 L1281.85,199.36 L1282.15,199.29 L1282.46,198.94 L1282.77,200.08 L1283.08,199.72 L1283.38,200.12 L1283.69,199.93 L1284.00,200.00" fill="none" stroke="#000" stroke-width="1.2" stroke-linejoin="round"/>
<path d="M350.80,403.50 L352.40,398.00 L353.10,394.50 L354.00,382.00 L354.70,369.50 L355.50,350.00 L356.25,332.00 L358.00,294.00 L359.80,256.00 L360.70,225.00 L361.25,198.50 L361.25,533.00" fill="none" stroke="#0f7a12" stroke-width="4.2" stroke-linejoin="round" stroke-linecap="round"/>
<path d="M769.20,407.50 L770.60,394.50 L771.80,382.00 L772.75,369.50 L773.60,350.00 L774.40,332.00 L775.70,294.00 L777.00,256.00 L778.00,225.00 L778.90,188.00 L779.00,533.00" fill="none" stroke="#17a9bd" stroke-width="4.2" stroke-linejoin="round" stroke-linecap="round"/>
<g font-family="'DejaVu Sans Condensed','DejaVu Sans','Liberation Sans',sans-serif" font-size="9.2" fill="#444" text-anchor="middle">
<text x="224.7" y="592">10000</text>
<text x="571.8" y="592">20000</text>
<text x="918.9" y="592">30000</text>
<text x="1265.5" y="592">40000</text>
</g>
</svg>
</body></html>
